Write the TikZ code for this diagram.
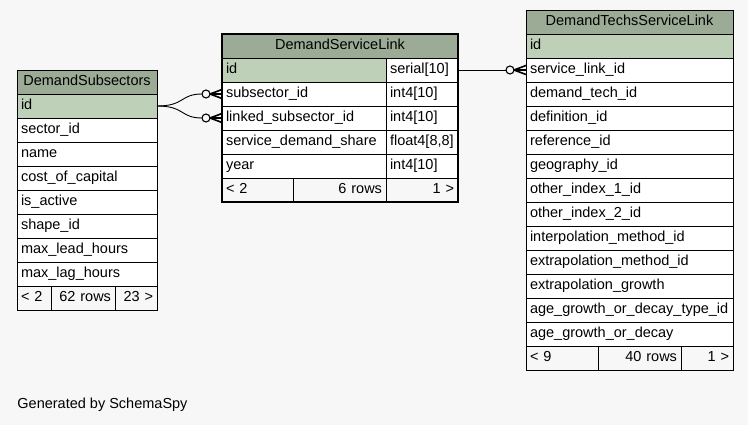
\documentclass[tikz,border=0pt]{standalone}
\usepackage{fontspec}
\setmainfont{Liberation Sans}
\usepackage{xcolor}
\usetikzlibrary{positioning}

\definecolor{bggray}{HTML}{F7F7F7}
\definecolor{hdrgreen}{HTML}{9BAB96}
\definecolor{pkgreen}{HTML}{BED1B8}
\newcommand{\tblfont}{\fontsize{14.5}{17}\selectfont}

\begin{document}
\begin{tikzpicture}[x=1pt,y=-1pt,line width=0.9pt]
	\tikzstyle{cell}=[draw, rectangle, outer sep=0pt, inner xsep=4pt, inner ysep=0pt, minimum height=24pt, text height=10.5pt, text depth=3.5pt, font=\tblfont]
	\tikzstyle{hdr}=[cell, fill=hdrgreen, align=center]
	\tikzstyle{pk}=[cell, fill=pkgreen, align=left]
	\tikzstyle{fld}=[cell, fill=white, align=left]
	\tikzstyle{ftr}=[cell, fill=bggray]
	\tikzset{zeromany/.pic={
		\draw[fill=bggray, line width=1.1pt] (-16,0) circle (4);
		\draw[line width=1.6pt] (-12,0) -- (0,-4.5) (-12,0) -- (0,0) (-12,0) -- (0,4.5);}}
	\path[use as bounding box, fill=bggray] (0,0) rectangle (748,425);

	% DemandSubsectors
	\node[hdr, text width=132pt, anchor=north west] (ds) at (17,70) {DemandSubsectors};
	\node[pk, text width=132pt] (ds-id) [below=0pt of ds] {id};
	\node[fld, text width=132pt] (ds-sector) [below=0pt of ds-id] {sector\_id};
	\node[fld, text width=132pt] (ds-name) [below=0pt of ds-sector] {name};
	\node[fld, text width=132pt] (ds-cost) [below=0pt of ds-name] {cost\_of\_capital};
	\node[fld, text width=132pt] (ds-active) [below=0pt of ds-cost] {is\_active};
	\node[fld, text width=132pt] (ds-shape) [below=0pt of ds-active] {shape\_id};
	\node[fld, text width=132pt] (ds-lead) [below=0pt of ds-shape] {max\_lead\_hours};
	\node[fld, text width=132pt] (ds-lag) [below=0pt of ds-lead] {max\_lag\_hours};
	\node[ftr, text width=26pt, align=left, anchor=north west] (ds-f1) at (ds-lag.south west) {< 2};
	\node[ftr, text width=56pt, align=right] (ds-f2) [right=0pt of ds-f1] {62 rows};
	\node[ftr, text width=34pt, align=right] (ds-f3) [right=0pt of ds-f2] {23 >};

	% DemandServiceLink
	\node[hdr, text width=228pt, anchor=north west] (dsl) at (222,34) {DemandServiceLink};
	\node[pk, text width=156pt, anchor=north west] (dsl-id) at (dsl.south west) {id};
	\node[fld, text width=64pt] (dsl-id-t) [right=0pt of dsl-id] {serial[10]};
	\node[fld, text width=156pt] (dsl-sub) [below=0pt of dsl-id] {subsector\_id};
	\node[fld, text width=64pt] (dsl-sub-t) [right=0pt of dsl-sub] {int4[10]};
	\node[fld, text width=156pt] (dsl-link) [below=0pt of dsl-sub] {linked\_subsector\_id};
	\node[fld, text width=64pt] (dsl-link-t) [right=0pt of dsl-link] {int4[10]};
	\node[fld, text width=156pt] (dsl-share) [below=0pt of dsl-link] {service\_demand\_share};
	\node[fld, text width=64pt] (dsl-share-t) [right=0pt of dsl-share] {float4[8,8]};
	\node[fld, text width=156pt] (dsl-year) [below=0pt of dsl-share] {year};
	\node[fld, text width=64pt] (dsl-year-t) [right=0pt of dsl-year] {int4[10]};
	\node[ftr, text width=63pt, align=left, anchor=north west] (dsl-f1) at (dsl-year.south west) {< 2};
	\node[ftr, text width=85pt, align=right] (dsl-f2) [right=0pt of dsl-f1] {6 rows};
	\node[ftr, text width=64pt, align=right] (dsl-f3) [right=0pt of dsl-f2] {1 >};
	\draw[line width=2.5pt] (dsl.north west) rectangle (dsl-f3.south east);

	% DemandTechsServiceLink
	\node[hdr, text width=199pt, anchor=north west] (dts) at (526,10) {DemandTechsServiceLink};
	\node[pk, text width=199pt] (dts-id) [below=0pt of dts] {id};
	\node[fld, text width=199pt] (dts-slid) [below=0pt of dts-id] {service\_link\_id};
	\node[fld, text width=199pt] (dts-tech) [below=0pt of dts-slid] {demand\_tech\_id};
	\node[fld, text width=199pt] (dts-def) [below=0pt of dts-tech] {definition\_id};
	\node[fld, text width=199pt] (dts-ref) [below=0pt of dts-def] {reference\_id};
	\node[fld, text width=199pt] (dts-geo) [below=0pt of dts-ref] {geography\_id};
	\node[fld, text width=199pt] (dts-oi1) [below=0pt of dts-geo] {other\_index\_1\_id};
	\node[fld, text width=199pt] (dts-oi2) [below=0pt of dts-oi1] {other\_index\_2\_id};
	\node[fld, text width=199pt] (dts-interp) [below=0pt of dts-oi2] {interpolation\_method\_id};
	\node[fld, text width=199pt] (dts-extrap) [below=0pt of dts-interp] {extrapolation\_method\_id};
	\node[fld, text width=199pt] (dts-growth) [below=0pt of dts-extrap] {extrapolation\_growth};
	\node[fld, text width=199pt] (dts-agetype) [below=0pt of dts-growth] {age\_growth\_or\_decay\_type\_id};
	\node[fld, text width=199pt] (dts-age) [below=0pt of dts-agetype] {age\_growth\_or\_decay};
	\node[ftr, text width=64pt, align=left, anchor=north west] (dts-f1) at (dts-age.south west) {< 9};
	\node[ftr, text width=75pt, align=right] (dts-f2) [right=0pt of dts-f1] {40 rows};
	\node[ftr, text width=44pt, align=right] (dts-f3) [right=0pt of dts-f2] {1 >};

	% relations
	\draw (ds-id.east) .. controls +(28,0) and +(-22,0) .. ([xshift=-20pt]dsl-sub.west);
	\draw (ds-id.east) .. controls +(28,0) and +(-22,0) .. ([xshift=-20pt]dsl-link.west);
	\draw (dsl-id-t.east) -- ([xshift=-20pt]dts-slid.west);
	\pic at (dsl-sub.west) {zeromany};
	\pic at (dsl-link.west) {zeromany};
	\pic at (dts-slid.west) {zeromany};

	\node[font=\tblfont, anchor=west, inner sep=0pt] (gen) at (17,405) {Generated by SchemaSpy};
\end{tikzpicture}
\end{document}
